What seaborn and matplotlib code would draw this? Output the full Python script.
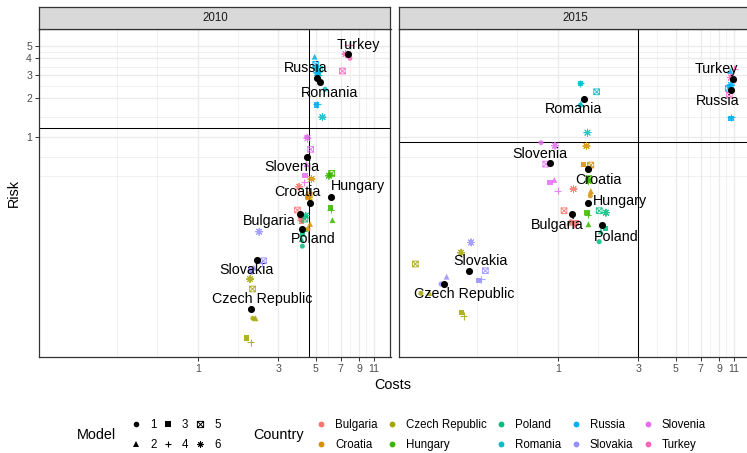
import numpy as np
import pandas as pd
import matplotlib
matplotlib.use("Agg")
import matplotlib.pyplot as plt
from matplotlib.path import Path
from matplotlib.lines import Line2D
from matplotlib.ticker import FixedLocator, FixedFormatter, NullFormatter
import seaborn as sns

# ---------------------------------------------------------------- data
COUNTRIES = ["Bulgaria", "Croatia", "Czech Republic", "Hungary", "Poland",
             "Romania", "Russia", "Slovakia", "Slovenia", "Turkey"]
MODELS = [1, 2, 3, 4, 5, 6]
YEARS = [2010, 2015]

# rows follow COUNTRIES, columns follow MODELS
COSTS_2010 = [
    [4.05, 4.12, 4.11, 4.08, 3.89, 3.98],
    [4.49, 4.62, 4.49, 4.52, 4.57, 4.71],
    [2.12, 2.20, 1.95, 2.06, 2.11, 2.04],
    [6.05, 6.27, 6.12, 6.12, 6.21, 5.98],
    [4.16, 4.12, 4.16, 4.22, 4.30, 4.36],
    [5.67, 5.00, 5.15, 5.20, 5.25, 5.47],
    [5.06, 4.92, 5.06, 5.08, 4.99, 5.10],
    [2.08, 2.15, 2.06, 2.40, 2.45, 2.31],
    [4.42, 4.40, 4.31, 4.26, 4.66, 4.46],
    [7.96, 7.70, 7.80, 7.86, 7.18, 7.51],
]
RISK_2010 = [
    [0.240, 0.235, 0.227, 0.232, 0.276, 0.416],
    [0.197, 0.216, 0.349, 0.335, 0.360, 0.477],
    [0.0409, 0.0409, 0.0290, 0.0268, 0.0686, 0.0818],
    [0.510, 0.231, 0.2875, 0.278, 0.527, 0.505],
    [0.146, 0.165, 0.180, 0.190, 0.235, 0.250],
    [2.32, 3.45, 3.10, 3.00, 3.30, 1.42],
    [3.40, 4.12, 1.76, 1.78, 3.60, 3.10],
    [0.092, 0.100, 0.0958, 0.108, 0.1129, 0.1883],
    [1.00, 0.62, 0.505, 0.450, 0.805, 0.977],
    [4.01, 4.40, 4.20, 5.06, 3.20, 4.32],
]
COSTS_2015 = [
    [1.20, 1.17, 1.28, 1.25, 1.09, 1.24],
    [1.56, 1.57, 1.42, 1.50, 1.57, 1.48],
    [0.155, 0.174, 0.270, 0.278, 0.1437, 0.268],
    [1.50, 1.52, 1.49, 1.51, 1.53, 1.52],
    [1.76, 1.80, 1.91, 1.85, 1.76, 1.93],
    [1.36, 1.37, 1.36, 1.36, 1.70, 1.50],
    [10.4, 10.5, 10.6, 10.6, 10.22, 10.6],
    [0.204, 0.220, 0.339, 0.352, 0.373, 0.307],
    [0.797, 0.955, 0.900, 1.00, 0.85, 0.964],
    [11.09, 11.0, 10.9, 11.09, 10.36, 10.6],
]
RISK_2015 = [
    [0.225, 0.2207, 0.219, 0.215, 0.2727, 0.400],
    [0.355, 0.386, 0.614, 0.600, 0.610, 0.853],
    [0.0636, 0.0640, 0.0455, 0.0426, 0.1066, 0.130],
    [0.470, 0.2146, 0.2633, 0.255, 0.480, 0.460],
    [0.158, 0.190, 0.200, 0.210, 0.2727, 0.2633],
    [1.75, 1.80, 2.58, 2.58, 2.22, 1.08],
    [2.45, 3.20, 1.39, 1.42, 2.36, 2.50],
    [0.0749, 0.0852, 0.0794, 0.0813, 0.0947, 0.156],
    [0.905, 0.469, 0.447, 0.388, 0.620, 0.858],
    [2.69, 2.85, 2.75, 3.32, 2.10, 2.85],
]

# country averages (black points)
MEAN_COSTS_2010 = [4.03, 4.60, 2.08, 6.12, 4.16, 5.27, 5.06, 2.23, 4.42, 7.75]
MEAN_RISK_2010 = [0.2586, 0.314, 0.0479, 0.345, 0.1965, 2.62, 2.85, 0.1143, 0.707, 4.32]
MEAN_COSTS_2015 = [1.215, 1.51, 0.213, 1.51, 1.83, 1.44, 10.6, 0.300, 0.904, 10.94]
MEAN_RISK_2015 = [0.2573, 0.566, 0.0749, 0.314, 0.212, 1.97, 2.29, 0.0947, 0.629, 2.78]

# overall reference lines per year
REF_COSTS = [4.56, 3.0]
REF_RISK = [1.17, 0.91]

X_BREAKS = [1, 3, 5, 7, 9, 11]
Y_BREAKS = [1, 2, 3, 4, 5]

# ---------------------------------------------------------------- frames
rows = []
for yr, cost_tab, risk_tab in [(2010, COSTS_2010, RISK_2010), (2015, COSTS_2015, RISK_2015)]:
    for i, c in enumerate(COUNTRIES):
        for j, m in enumerate(MODELS):
            rows.append({"Year": yr, "Country": c, "Model": m,
                         "Costs": cost_tab[i][j], "Risk": risk_tab[i][j]})
df = pd.DataFrame(rows)

means = pd.concat([
    pd.DataFrame({"Year": 2010, "Country": COUNTRIES, "Costs": MEAN_COSTS_2010, "Risk": MEAN_RISK_2010}),
    pd.DataFrame({"Year": 2015, "Country": COUNTRIES, "Costs": MEAN_COSTS_2015, "Risk": MEAN_RISK_2015}),
], ignore_index=True)

# ---------------------------------------------------------------- style
FONT = "Liberation Sans"
plt.rcParams["font.family"] = [FONT, "DejaVu Sans"]

PALETTE = dict(zip(COUNTRIES, ["#F8766D", "#D89000", "#A3A500", "#39B600", "#00BF7D",
                               "#00BFC4", "#00B0F6", "#9590FF", "#E76BF3", "#FF62BC"]))

BOX_X = Path([(-1, -1), (1, -1), (1, 1), (-1, 1), (-1, -1),
              (-1, -1), (1, 1), (-1, 1), (1, -1)],
             [Path.MOVETO, Path.LINETO, Path.LINETO, Path.LINETO, Path.CLOSEPOLY,
              Path.MOVETO, Path.LINETO, Path.MOVETO, Path.LINETO])
MARKERS = {1: "o", 2: "^", 3: "s", 4: "+", 5: BOX_X, 6: (8, 2, 0)}
SIZES = {1: 13, 2: 18, 3: 15, 4: 26, 5: 17, 6: 26}
LWS = {1: 0, 2: 0, 3: 0, 4: 0.8, 5: 0.7, 6: 0.7}

# label offsets (points) from each country's black point
LABEL_OFFSETS = {
    2010: {"Turkey": (7.6, 6.5), "Russia": (-8.1, 6.8), "Romania": (7.2, -7.9),
           "Slovenia": (-10.9, -7.2), "Croatia": (-8.5, 7.9), "Hungary": (19.7, 8.1),
           "Bulgaria": (-22.2, -5.0), "Poland": (7.9, -7.2), "Slovakia": (-7.6, -7.2),
           "Czech Republic": (7.6, 7.2)},
    2015: {"Turkey": (-12.5, 7.2), "Russia": (-9.9, -7.9), "Romania": (-7.6, -7.6),
           "Slovenia": (-7.6, 6.5), "Croatia": (7.6, -7.7), "Hungary": (23.0, 1.4),
           "Bulgaria": (-10.4, -7.9), "Poland": (9.9, -8.9), "Slovakia": (7.8, 7.0),
           "Czech Republic": (14.7, -7.2)},
}
LEADERS = {(2010, "Hungary")}

W, H = 747, 453
fig = plt.figure(figsize=(W / 100, H / 100), dpi=100, facecolor="white")

panel_left = [39.3, 399.3]
panel_w = 351.2
panel_top, panel_bottom = 29.3, 356.7
strip_top = 6.7

x_minor = [10 ** v for v in (-0.4771, -0.2386, 0.2386, 0.5880, 0.7720, 0.8995, 0.9978)]
y_minor = [0.5, 10 ** -0.1505, 10 ** 0.1505, 10 ** 0.3891, 10 ** 0.5396, 10 ** 0.6505]

BORDER = "#333333"
GRID = "#EBEBEB"

for k, yr in enumerate(YEARS):
    ax = fig.add_axes([panel_left[k] / W, 1 - panel_bottom / H,
                       panel_w / W, (panel_bottom - panel_top) / H])
    ax.set_xscale("log")
    ax.set_yscale("log")
    ax.set_xlim(0.1155, 13.83)
    ax.set_ylim(0.0208, 6.68)
    ax.set_axisbelow(True)

    sub_year = df[df["Year"] == yr]
    for m in MODELS:
        sub = sub_year[sub_year["Model"] == m]
        sns.scatterplot(data=sub, x="Costs", y="Risk", hue="Country",
                        hue_order=COUNTRIES, palette=PALETTE,
                        marker=MARKERS[m], s=SIZES[m], linewidth=LWS[m],
                        alpha=0.85, ax=ax, legend=False, zorder=3)
        if m == 5:
            pts = ax.collections[-1]
            cols = pts.get_facecolors()
            pts.set_edgecolors(cols)
            pts.set_facecolors("none")
            pts.set_linewidths(0.7)

    ax.axvline(REF_COSTS[k], color="black", lw=0.75, zorder=2)
    ax.axhline(REF_RISK[k], color="black", lw=0.75, zorder=2)

    msub = means[means["Year"] == yr]
    sns.scatterplot(data=msub, x="Costs", y="Risk", color="black", s=26,
                    linewidth=0, ax=ax, legend=False, zorder=4)

    for _, r in msub.iterrows():
        dx, dy = LABEL_OFFSETS[yr][r["Country"]]
        kw = {}
        if (yr, r["Country"]) in LEADERS:
            kw["arrowprops"] = dict(arrowstyle="-", color="black", lw=0.7,
                                    shrinkA=1, shrinkB=3)
        ax.annotate(r["Country"], xy=(r["Costs"], r["Risk"]), xytext=(dx, dy),
                    textcoords="offset points", ha="center", va="center",
                    fontsize=10.3, color="black", zorder=6, **kw)

    ax.xaxis.set_major_locator(FixedLocator(X_BREAKS))
    ax.xaxis.set_major_formatter(FixedFormatter([str(v) for v in X_BREAKS]))
    ax.xaxis.set_minor_locator(FixedLocator(x_minor))
    ax.xaxis.set_minor_formatter(NullFormatter())
    ax.yaxis.set_major_locator(FixedLocator(Y_BREAKS))
    ax.yaxis.set_major_formatter(FixedFormatter([str(v) for v in Y_BREAKS]))
    ax.yaxis.set_minor_locator(FixedLocator(y_minor))
    ax.yaxis.set_minor_formatter(NullFormatter())

    ax.grid(which="major", color=GRID, lw=0.95)
    ax.grid(which="minor", color=GRID, lw=0.5)
    ax.tick_params(which="minor", length=0)
    ax.tick_params(which="major", length=2.6, width=0.7, color=BORDER,
                   labelsize=7.6, labelcolor="#4D4D4D", pad=2.6)
    if k == 1:
        ax.tick_params(axis="y", which="both", length=0, labelleft=False)
    ax.set_xlabel("")
    ax.set_ylabel("")
    for sp in ax.spines.values():
        sp.set_color(BORDER)
        sp.set_linewidth(0.9)

    # facet strip
    sax = fig.add_axes([panel_left[k] / W, 1 - panel_top / H,
                        panel_w / W, (panel_top - strip_top) / H])
    sax.set_facecolor("#D9D9D9")
    sax.set_xticks([])
    sax.set_yticks([])
    for sp in sax.spines.values():
        sp.set_color(BORDER)
        sp.set_linewidth(0.9)
    sax.text(0.5, 0.5, str(yr), ha="center", va="center", fontsize=8.3,
             color="#1A1A1A", transform=sax.transAxes)

# axis titles
fig.text(393 / W, 1 - 385 / H, "Costs", ha="center", va="center", fontsize=10.4)
fig.text(14 / W, 1 - 193 / H, "Risk", ha="center", va="center", rotation=90, fontsize=10.4)

# legends
legend_y = 1 - 435 / H
model_handles = [Line2D([], [], ls="", marker=MARKERS[m], color="black",
                        markerfacecolor=("none" if m == 5 else "black"),
                        markersize=(4.0 if m in (1,) else 4.5), markeredgewidth=LWS[m] or 0.0)
                 for m in MODELS]
fig.legend(model_handles, [str(m) for m in MODELS], ncol=3, loc="center left",
           bbox_to_anchor=(131.4 / W, legend_y), frameon=False,
           prop={"family": FONT, "size": 8.3}, handlelength=0.8,
           handletextpad=0.82, columnspacing=0.6, labelspacing=0.75,
           borderpad=0, borderaxespad=0)
country_handles = [Line2D([], [], ls="", marker="o", color=PALETTE[c],
                          markersize=4.2, markeredgewidth=0) for c in COUNTRIES]
fig.legend(country_handles, COUNTRIES, ncol=5, loc="center left",
           bbox_to_anchor=(316.4 / W, legend_y), frameon=False,
           prop={"family": FONT, "size": 8.3}, handlelength=0.8,
           handletextpad=0.82, columnspacing=0.85, labelspacing=0.75,
           borderpad=0, borderaxespad=0)
fig.text(77 / W, legend_y, "Model", ha="left", va="center", fontsize=10.4)
fig.text(253.5 / W, legend_y, "Country", ha="left", va="center", fontsize=10.4)

fig.savefig("out.png", dpi=100, facecolor="white")
